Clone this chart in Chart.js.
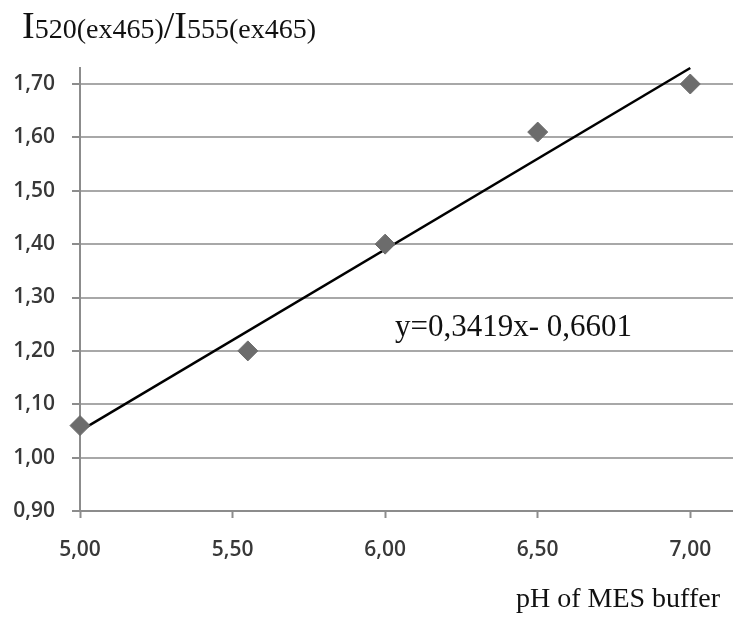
<!DOCTYPE html>
<html>
<head>
<meta charset="utf-8">
<script src="https://cdn.jsdelivr.net/npm/chart.js@4.4.1/dist/chart.umd.min.js"></script>
<style>
  html, body { margin: 0; padding: 0; background: #fff; overflow: hidden; }
  canvas { display: block; }
</style>
</head>
<body>
<canvas id="phChart" width="733" height="617"></canvas>
<script>
// measured points
const phValues = [5.00, 5.55, 6.00, 6.50, 7.00];
const ratioValues = [1.06, 1.20, 1.40, 1.61, 1.70];
// linear trend line ends (y=0,3419x-0,6601)
const trendX = [5.00, 7.00];
const trendY = [1.05, 1.73];
const xTicks = [5.00, 5.50, 6.00, 6.50, 7.00];
const equationText = 'y=0,3419x- 0,6601';

const serif = '"Liberation Serif", "DejaVu Serif", serif';
const tickFont = { family: '"Open Sans", sans-serif', size: 21, weight: '600' };
const comma = v => v.toFixed(2).replace('.', ',');

// titles and equation drawn on the canvas
const textPlugin = {
  id: 'texts',
  afterDraw(chart) {
    const ctx = chart.ctx;
    ctx.save();
    ctx.fillStyle = '#111';
    ctx.textBaseline = 'alphabetic';
    ctx.textAlign = 'left';

    // y title: I520(ex465)/I555(ex465)
    let x = 22;
    const base = 38;
    const parts = [
      ['I', 38], ['520(ex465)', 28], ['/', 38], ['I', 38], ['555(ex465)', 28]
    ];
    parts.forEach(p => {
      ctx.font = p[1] + 'px ' + serif;
      ctx.fillText(p[0], x, base);
      x += ctx.measureText(p[0]).width;
    });

    // equation
    ctx.font = '31px ' + serif;
    ctx.fillText(equationText, 395, 336);

    // x title
    ctx.font = '28px ' + serif;
    ctx.textAlign = 'right';
    ctx.fillText('pH of MES buffer', 720, 607);
    ctx.restore();
  }
};

const ctx = document.getElementById('phChart').getContext('2d');
new Chart(ctx, {
  type: 'scatter',
  data: {
    datasets: [
      {
        label: 'trend',
        type: 'line',
        data: trendX.map((v, i) => ({ x: v, y: trendY[i] })),
        borderColor: '#000',
        borderWidth: 2.5,
        pointRadius: 0,
        fill: false,
        clip: false,
        order: 2
      },
      {
        label: 'ratio',
        data: phValues.map((v, i) => ({ x: v, y: ratioValues[i] })),
        pointStyle: 'rectRot',
        pointRadius: 10,
        backgroundColor: '#6c6c6c',
        borderColor: '#6c6c6c',
        borderWidth: 1,
        clip: false,
        order: 1
      }
    ]
  },
  options: {
    responsive: false,
    animation: false,
    layout: { autoPadding: false, padding: { top: 68, left: 0, right: 0, bottom: 0 } },
    plugins: {
      legend: { display: false },
      tooltip: { enabled: false }
    },
    scales: {
      x: {
        type: 'linear',
        min: 5.00,
        max: 7.14,
        afterFit: s => { s.height = 106; s.paddingLeft = 0; s.paddingRight = 0; },
        afterBuildTicks: s => { s.ticks = xTicks.map(v => ({ value: v })); },
        ticks: {
          padding: 19,
          color: '#383838',
          font: tickFont,
          maxRotation: 0,
          callback: v => comma(v)
        },
        grid: {
          drawOnChartArea: false,
          drawTicks: true,
          tickLength: 7,
          tickWidth: 2,
          tickColor: '#8c8c8c'
        },
        border: { color: '#8c8c8c', width: 2 }
      },
      y: {
        min: 0.90,
        max: 1.73,
        afterFit: s => { s.width = 80; s.paddingTop = 0; s.paddingBottom = 0; },
        ticks: {
          stepSize: 0.1,
          includeBounds: false,
          padding: 17,
          color: '#383838',
          font: tickFont,
          callback: v => comma(v)
        },
        grid: {
          color: '#a8a8a8',
          lineWidth: 2,
          tickLength: 8,
          tickColor: '#8c8c8c'
        },
        border: { color: '#8c8c8c', width: 2 }
      }
    }
  },
  plugins: [textPlugin]
});
</script>
</body>
</html>
